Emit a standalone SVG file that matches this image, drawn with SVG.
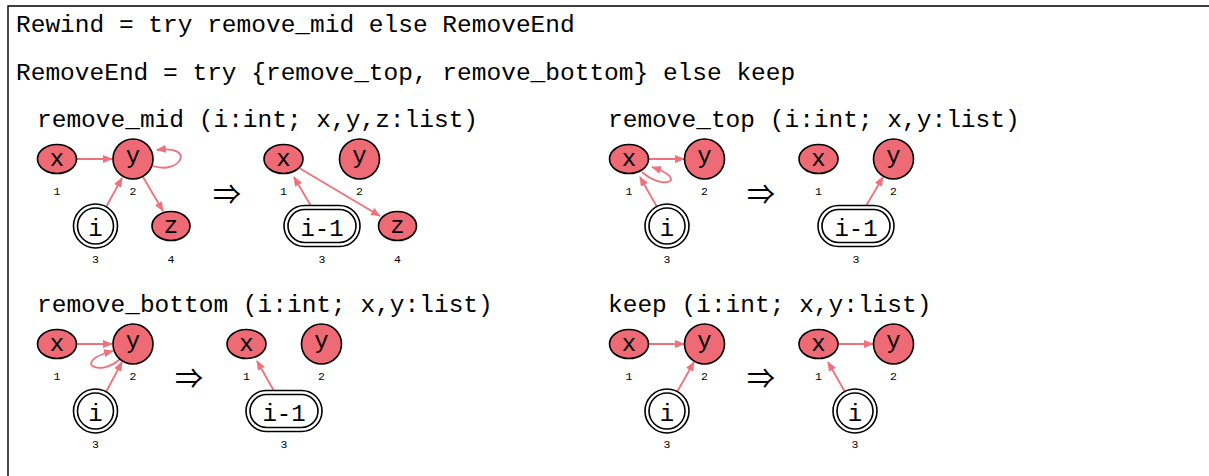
<svg xmlns="http://www.w3.org/2000/svg" width="1209" height="476" viewBox="0 0 1209 476">
<defs>
<style>
.t{font-family:"Liberation Mono","DejaVu Sans Mono",monospace;font-size:24.5px;fill:#000}
.nl{font-family:"Liberation Mono","DejaVu Sans Mono",monospace;font-size:24px;fill:#000;text-anchor:middle}
.num{font-family:"Liberation Mono","DejaVu Sans Mono",monospace;font-size:11.5px;fill:#000;text-anchor:middle}
.arr{font-family:"Noto Sans CJK JP","DejaVu Sans",sans-serif;font-size:28px;fill:#000;text-anchor:middle}
.red{fill:#ee6a75;stroke:#000;stroke-width:1.6}
.dbl{fill:#fff;stroke:#000;stroke-width:1.6}
.e{fill:none;stroke:#f0707b;stroke-width:1.8;marker-end:url(#ah)}
</style>
<marker id="ah" markerWidth="10" markerHeight="8" refX="9" refY="4" orient="auto" markerUnits="userSpaceOnUse">
<path d="M0,0 L10,4 L0,8 Z" fill="#f0707b"/>
</marker>
</defs>
<rect x="0" y="0" width="1209" height="476" fill="#fff"/>
<path d="M8,476 L8,6 L1209,6" fill="none" stroke="#000" stroke-width="1.4"/>
<text class="t" x="16" y="32">Rewind = try remove_mid else RemoveEnd</text>
<text class="t" x="16" y="80">RemoveEnd = try {remove_top, remove_bottom} else keep</text>

<text class="t" x="37" y="127">remove_mid (i:int; x,y,z:list)</text>
<text class="t" x="608" y="127">remove_top (i:int; x,y:list)</text>
<text class="t" x="37" y="312">remove_bottom (i:int; x,y:list)</text>
<text class="t" x="608" y="312">keep (i:int; x,y:list)</text>

<text class="arr" x="227" y="205">⇒</text>
<text class="arr" x="761" y="205">⇒</text>
<text class="arr" x="189" y="389">⇒</text>
<text class="arr" x="761" y="389">⇒</text>

<g id="connectors">
<path class="e" d="M76.5,159 L112,159"/>
<path class="e" d="M153,166 C180,175 197,145 157,150"/>
<path class="e" d="M106,207 L122,178"/>
<path class="e" d="M143,177 L163,211"/>
<path class="e" d="M311,206 L294,177"/>
<path class="e" d="M300,168.5 L380,216"/>

<path class="e" d="M648.5,159 L684,159"/>
<path class="e" d="M642,172 C663,191 690,180 652,167"/>
<path class="e" d="M657,207 L640,177"/>
<path class="e" d="M866,206 L883,177"/>

<path class="e" d="M76.5,344 L112,344"/>
<path class="e" d="M120,359 C100,378 70,362 113,351"/>
<path class="e" d="M106,392 L122,362"/>
<path class="e" d="M274,391 L257,361"/>

<path class="e" d="M648.5,344 L684,344"/>
<path class="e" d="M677,392 L694,362"/>
<path class="e" d="M838,344 L873,344"/>
<path class="e" d="M845,392 L828,362"/>
</g>

<g id="p1-x"><ellipse class="red" cx="57" cy="159" rx="19.5" ry="14.5"/><text class="nl" x="57" y="165.5">x</text><text class="num" x="57" y="195">1</text></g>
<g id="p1-y"><circle class="red" cx="133" cy="159" r="20"/><text class="nl" x="133" y="163">y</text><text class="num" x="133" y="195">2</text></g>
<g id="p1-i"><circle class="dbl" cx="95.5" cy="226" r="22"/><circle class="dbl" cx="95.5" cy="226" r="18"/><text class="nl" x="95.5" y="236">i</text><text class="num" x="95.5" y="263">3</text></g>
<g id="p1-z"><ellipse class="red" cx="171" cy="226" rx="19" ry="14.5"/><text class="nl" x="171" y="232.5">z</text><text class="num" x="171" y="263">4</text></g>

<g id="p1r-x"><ellipse class="red" cx="283.5" cy="159" rx="19.5" ry="14.5"/><text class="nl" x="283.5" y="165.5">x</text><text class="num" x="283.5" y="195">1</text></g>
<g id="p1r-y"><circle class="red" cx="359.5" cy="159" r="20"/><text class="nl" x="359.5" y="163">y</text><text class="num" x="359.5" y="195">2</text></g>
<g id="p1r-i"><rect class="dbl" x="284" y="205.5" width="76" height="41" rx="20.5"/><rect class="dbl" x="288" y="209.5" width="68" height="33" rx="16.5"/><text class="nl" x="322" y="236">i-1</text><text class="num" x="322" y="263">3</text></g>
<g id="p1r-z"><ellipse class="red" cx="397.5" cy="226" rx="19" ry="14.5"/><text class="nl" x="397.5" y="232.5">z</text><text class="num" x="397.5" y="263">4</text></g>

<g id="p2-x"><ellipse class="red" cx="629" cy="159" rx="19.5" ry="14.5"/><text class="nl" x="629" y="165.5">x</text><text class="num" x="629" y="195">1</text></g>
<g id="p2-y"><circle class="red" cx="704.5" cy="159" r="20"/><text class="nl" x="704.5" y="163">y</text><text class="num" x="704.5" y="195">2</text></g>
<g id="p2-i"><circle class="dbl" cx="667" cy="226" r="22"/><circle class="dbl" cx="667" cy="226" r="18"/><text class="nl" x="667" y="236">i</text><text class="num" x="667" y="263">3</text></g>
<g id="p2r-x"><ellipse class="red" cx="818.5" cy="159" rx="19.5" ry="14.5"/><text class="nl" x="818.5" y="165.5">x</text><text class="num" x="818.5" y="195">1</text></g>
<g id="p2r-y"><circle class="red" cx="893.5" cy="159" r="20"/><text class="nl" x="893.5" y="163">y</text><text class="num" x="893.5" y="195">2</text></g>
<g id="p2r-i"><rect class="dbl" x="818" y="205.5" width="76" height="41" rx="20.5"/><rect class="dbl" x="822" y="209.5" width="68" height="33" rx="16.5"/><text class="nl" x="856" y="236">i-1</text><text class="num" x="856" y="263">3</text></g>

<g id="p3-x"><ellipse class="red" cx="57" cy="344" rx="19.5" ry="14.5"/><text class="nl" x="57" y="350.5">x</text><text class="num" x="57" y="380">1</text></g>
<g id="p3-y"><circle class="red" cx="133" cy="344" r="20"/><text class="nl" x="133" y="348">y</text><text class="num" x="133" y="380">2</text></g>
<g id="p3-i"><circle class="dbl" cx="95.5" cy="411" r="22"/><circle class="dbl" cx="95.5" cy="411" r="18"/><text class="nl" x="95.5" y="421">i</text><text class="num" x="95.5" y="448">3</text></g>
<g id="p3r-x"><ellipse class="red" cx="246.5" cy="344" rx="19.5" ry="14.5"/><text class="nl" x="246.5" y="350.5">x</text><text class="num" x="246.5" y="380">1</text></g>
<g id="p3r-y"><circle class="red" cx="321.5" cy="344" r="20"/><text class="nl" x="321.5" y="348">y</text><text class="num" x="321.5" y="380">2</text></g>
<g id="p3r-i"><rect class="dbl" x="246" y="390.5" width="76" height="41" rx="20.5"/><rect class="dbl" x="250" y="394.5" width="68" height="33" rx="16.5"/><text class="nl" x="284" y="421">i-1</text><text class="num" x="284" y="448">3</text></g>

<g id="p4-x"><ellipse class="red" cx="629" cy="344" rx="19.5" ry="14.5"/><text class="nl" x="629" y="350.5">x</text><text class="num" x="629" y="380">1</text></g>
<g id="p4-y"><circle class="red" cx="704.5" cy="344" r="20"/><text class="nl" x="704.5" y="348">y</text><text class="num" x="704.5" y="380">2</text></g>
<g id="p4-i"><circle class="dbl" cx="667" cy="411" r="22"/><circle class="dbl" cx="667" cy="411" r="18"/><text class="nl" x="667" y="421">i</text><text class="num" x="667" y="448">3</text></g>
<g id="p4r-x"><ellipse class="red" cx="818.5" cy="344" rx="19.5" ry="14.5"/><text class="nl" x="818.5" y="350.5">x</text><text class="num" x="818.5" y="380">1</text></g>
<g id="p4r-y"><circle class="red" cx="893.5" cy="344" r="20"/><text class="nl" x="893.5" y="348">y</text><text class="num" x="893.5" y="380">2</text></g>
<g id="p4r-i"><circle class="dbl" cx="855" cy="411" r="22"/><circle class="dbl" cx="855" cy="411" r="18"/><text class="nl" x="855" y="421">i</text><text class="num" x="855" y="448">3</text></g>
</svg>
